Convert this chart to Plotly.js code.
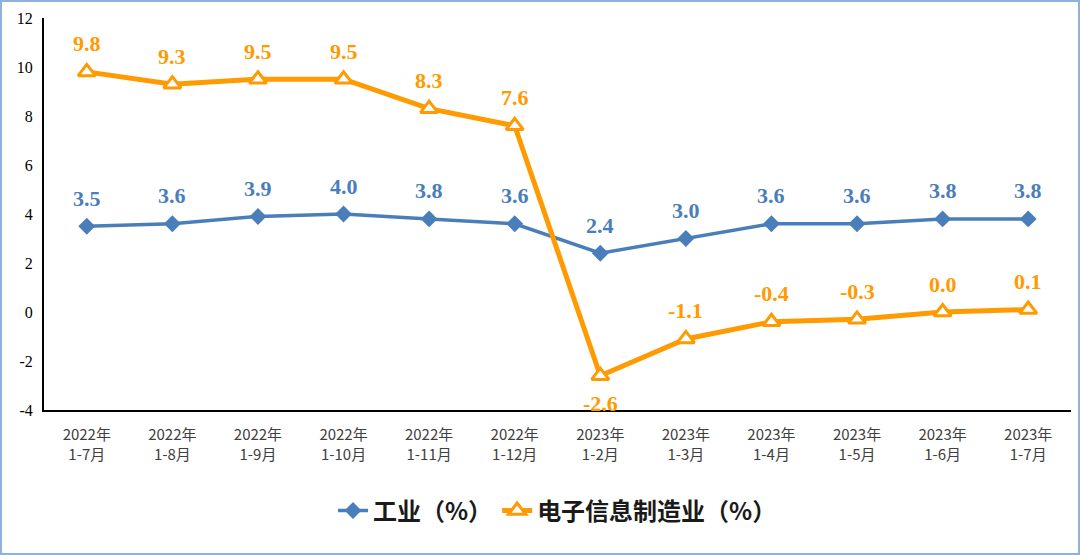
<!DOCTYPE html>
<html><head><meta charset="utf-8">
<script src="https://cdn.plot.ly/plotly-3.0.1.min.js"></script>
<style>
html,body{margin:0;padding:0;background:#fff;}
#wrap{position:relative;width:1080px;height:555px;}
#chart{width:1080px;height:555px;}
#frame{position:absolute;left:0;top:0;width:1076px;height:551px;border:2px solid #8FB2DD;pointer-events:none;}
</style></head>
<body><div id="wrap"><div id="chart"></div><div id="frame"></div></div>
<script>
const categories = ["2022年<br>1-7月","2022年<br>1-8月","2022年<br>1-9月","2022年<br>1-10月","2022年<br>1-11月","2022年<br>1-12月","2023年<br>1-2月","2023年<br>1-3月","2023年<br>1-4月","2023年<br>1-5月","2023年<br>1-6月","2023年<br>1-7月"];
const industry = [3.5,3.6,3.9,4.0,3.8,3.6,2.4,3.0,3.6,3.6,3.8,3.8];
const electronics = [9.8,9.3,9.5,9.5,8.3,7.6,-2.6,-1.1,-0.4,-0.3,0.0,0.1];
const seriesNames = ["工业（%）","电子信息制造业（%）"];
const yTicks = [-4,-2,0,2,4,6,8,10,12];

const blue = "#4A7EBB", orange = "#FF9A00";
const idx = categories.map((c,i)=>i);
const minE = Math.min(...electronics);

const annotations = [];
industry.forEach((v,i)=>annotations.push({x:i,y:v,xref:'x',yref:'y',text:v.toFixed(1),showarrow:false,yshift:28,
  font:{family:'"Liberation Serif", serif',size:22,color:blue,weight:'bold'}}));
electronics.forEach((v,i)=>{
  const below = v === minE;
  annotations.push({x:i,y:v,xref:'x',yref:'y',text:v.toFixed(1),showarrow:false,yshift: below?-28:28,
  font:{family:'"Liberation Serif", serif',size:22,color:orange,weight:'bold'}});
});

const data = [
 {x:idx,y:industry,name:seriesNames[0],type:'scatter',mode:'lines+markers',
  line:{color:blue,width:3.5},marker:{symbol:'diamond',size:13,color:blue}},
 {x:idx,y:electronics,name:seriesNames[1],type:'scatter',mode:'lines+markers',
  line:{color:orange,width:5},marker:{symbol:'triangle-up',size:15,color:'#ffffff',line:{color:orange,width:3}}}
];

const layout = {
 width:1080,height:555,
 margin:{l:44,r:9,t:18,b:145},
 paper_bgcolor:'#ffffff',plot_bgcolor:'#ffffff',
 showlegend:true,
 legend:{orientation:'h',x:0.5,xanchor:'center',y:-0.2,yanchor:'top',
   font:{family:'"Noto Sans CJK SC", sans-serif',size:24,color:'#1a1a1a',weight:'bold'},tracegroupgap:0},
 xaxis:{tickmode:'array',tickvals:idx,ticktext:categories,range:[-0.5,11.5],
   showline:true,linecolor:'#000',linewidth:2,showgrid:false,zeroline:false,ticks:'',ticklabelstandoff:10,
   tickfont:{family:'"Noto Sans CJK SC", sans-serif',size:15,color:'#404040'},fixedrange:true},
 yaxis:{range:[-4,12],tickmode:'array',tickvals:yTicks,ticktext:yTicks.map(String),showline:true,linecolor:'#000',linewidth:2,
   showgrid:false,zeroline:false,ticks:'',ticklabelstandoff:6,
   tickfont:{family:'"Liberation Serif", serif',size:16,color:'#000'}},
 annotations:annotations
};
Plotly.newPlot('chart',data,layout,{displayModeBar:false,staticPlot:true});
</script></body></html>
